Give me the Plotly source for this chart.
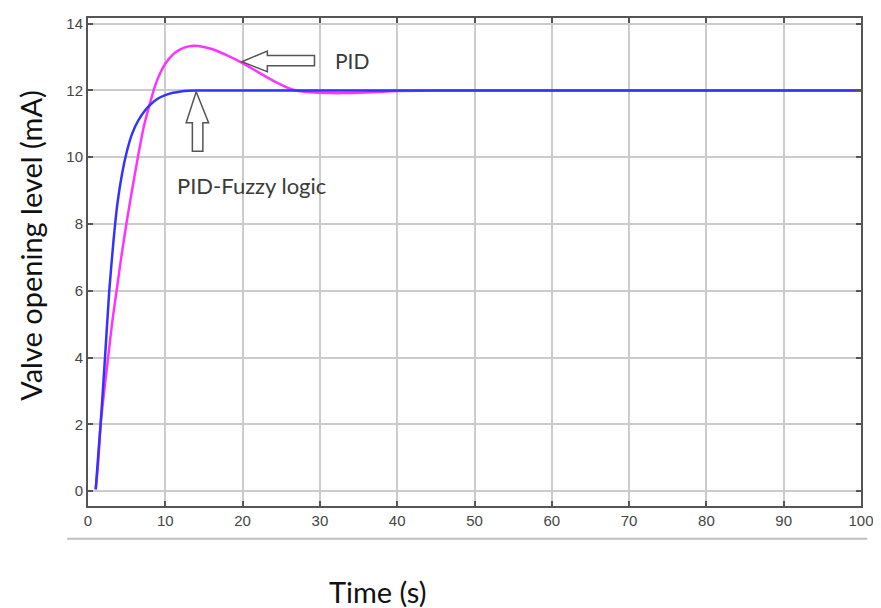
import plotly.graph_objects as go

# ---- data ----
pid_t = [1.0, 1.3, 1.63, 2.1, 2.6, 3.1, 3.7, 4.3, 4.96, 5.5, 6.45, 7.2, 7.95, 8.7, 9.4, 10.0,
         11.0, 12.0, 13.0, 13.8, 15.0, 16.0, 18.0, 20.0, 22.0, 24.3, 26.4, 28.0, 30.0,
         32.9, 36.0, 40.0, 45.0, 50.0, 60.0, 70.0, 80.0, 90.0, 100.0]
pid_y = [0.05, 0.8, 2.0, 3.0, 4.0, 5.0, 6.0, 7.0, 8.0, 8.75, 10.0, 10.9, 11.56, 12.15, 12.55, 12.8,
         13.08, 13.24, 13.32, 13.34, 13.3, 13.24, 13.05, 12.82, 12.55, 12.25, 12.03, 11.96, 11.93,
         11.92, 11.94, 11.98, 12.0, 12.0, 12.0, 12.0, 12.0, 12.0, 12.0]

fuzzy_t = [1.0, 1.3, 1.63, 2.2, 2.75, 3.3, 3.8, 4.4, 5.0, 5.7, 6.5, 7.3, 8.0, 9.0, 10.0,
           11.0, 12.0, 13.0, 14.0, 20.0, 30.0, 50.0, 100.0]
fuzzy_y = [0.05, 1.0, 2.0, 4.0, 6.0, 7.5, 8.6, 9.5, 10.15, 10.7, 11.1, 11.38, 11.56, 11.75, 11.86,
           11.93, 11.97, 11.99, 12.0, 12.0, 12.0, 12.0, 12.0]

x_ticks = [0, 10, 20, 30, 40, 50, 60, 70, 80, 90, 100]
y_ticks = [0, 2, 4, 6, 8, 10, 12, 14]

x_title = "Time (s)"
y_title = "Valve opening level (mA)"

fig = go.Figure()
fig.add_trace(go.Scatter(x=pid_t, y=pid_y, mode="lines", name="PID",
                         line=dict(color="#ff33ff", width=2.5, shape="spline", smoothing=0.5)))
fig.add_trace(go.Scatter(x=fuzzy_t, y=fuzzy_y, mode="lines", name="PID-Fuzzy logic",
                         line=dict(color="#3333ff", width=2.5, shape="spline", smoothing=0.5)))

axis_common = dict(showline=True, mirror="ticks", linecolor="#555555", linewidth=2,
                   ticks="inside", ticklen=5, tickcolor="#555555", tickwidth=1.5,
                   showgrid=True, gridcolor="#cbcbcb", gridwidth=1.5, zeroline=False,
                   tickfont=dict(family="Liberation Sans, Arial", size=15, color="#454545"))

fig.update_xaxes(range=[0, 100], tickvals=x_ticks, **axis_common)
fig.update_yaxes(range=[-0.447, 14.17], tickvals=y_ticks, **axis_common)

arrow_line = dict(color="#555555", width=1.5)
# PID arrow (pointing left)
fig.add_shape(type="path", xref="x", yref="y", line=arrow_line, fillcolor="rgba(255,255,255,0)",
              path="M 19.9 12.86 L 23.2 13.18 L 23.2 13.05 L 29.3 13.05 L 29.3 12.74 "
                   "L 23.2 12.74 L 23.2 12.56 Z")
# PID-Fuzzy arrow (pointing up)
fig.add_shape(type="path", xref="x", yref="y", line=arrow_line, fillcolor="rgba(255,255,255,0)",
              path="M 14.0 11.96 L 15.6 11.03 L 14.86 11.03 L 14.86 10.18 L 13.5 10.18 "
                   "L 13.5 11.03 L 12.7 11.03 Z")

# gray rule beneath the chart
fig.add_shape(type="line", xref="paper", yref="paper", x0=-0.027, x1=1.008, y0=-0.0672, y1=-0.0672,
              line=dict(color="#c0c0c0", width=2))

fig.add_annotation(x=34.15, y=12.89, xref="x", yref="y", text="PID", showarrow=False,
                   font=dict(family="Lato, Noto Sans", size=21, color="#3a3a3a"))
fig.add_annotation(x=21.1, y=9.14, xref="x", yref="y", text="PID-Fuzzy logic", showarrow=False,
                   font=dict(family="Lato, Noto Sans", size=22, color="#3a3a3a"))
fig.add_annotation(x=(379 - 88) / 776, y=(506 - 592) / 491, xref="paper", yref="paper",
                   xanchor="center", yanchor="middle", text=x_title, showarrow=False,
                   font=dict(family="Lato, Noto Sans", size=29, color="#111111"))
fig.add_annotation(x=(30 - 88) / 776, y=(506 - 244) / 491, xref="paper", yref="paper",
                   xanchor="center", yanchor="middle", text=y_title, showarrow=False,
                   textangle=-90, font=dict(family="Lato, Noto Sans", size=29, color="#111111"))

# the page body adds an 8px offset; figure size and margins compensate for it
fig.update_layout(width=873, height=600, margin=dict(l=80, r=17, t=7, b=102),
                  plot_bgcolor="white", paper_bgcolor="white", showlegend=False)

fig.write_html("out.html")
